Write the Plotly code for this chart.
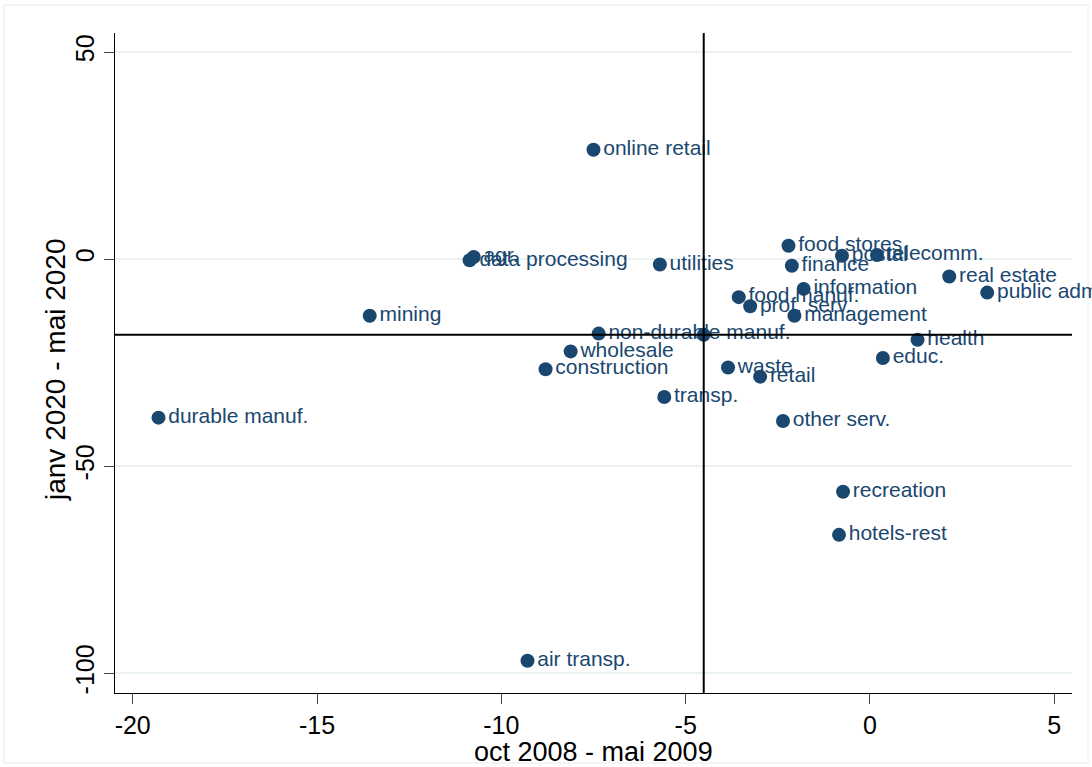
import plotly.graph_objects as go

sectors = ["online retail", "agr.", "data processing", "utilities", "mining",
           "durable manuf.", "non-durable manuf.", "", "wholesale", "construction",
           "transp.", "air transp.", "waste", "retail", "other serv.", "recreation",
           "hotels-rest", "food stores", "postal", "telecomm.", "finance",
           "information", "food manuf.", "prof. serv.", "management",
           "real estate", "public adm.", "health", "educ."]
x_2008 = [-7.50, -10.75, -10.86, -5.70, -13.57,
          -19.30, -7.36, -4.51, -8.12, -8.80,
          -5.58, -9.29, -3.85, -2.98, -2.36, -0.73,
          -0.84, -2.21, -0.76, 0.19, -2.12,
          -1.80, -3.56, -3.25, -2.05,
          2.15, 3.18, 1.29, 0.35]
y_2020 = [26.4, 0.5, -0.3, -1.3, -13.7,
          -38.3, -18.0, -18.3, -22.3, -26.6,
          -33.3, -97.0, -26.2, -28.4, -39.1, -56.2,
          -66.6, 3.2, 0.8, 1.0, -1.6,
          -7.2, -9.2, -11.4, -13.7,
          -4.2, -8.1, -19.5, -23.9]
ref_x = -4.51
ref_y = -18.3
x_ticks = [-20, -15, -10, -5, 0, 5]
y_ticks = [50, 0, -50, -100]
x_title = "oct 2008 - mai 2009"
y_title = "janv 2020 - mai 2020"

NAVY = "#1a476f"
FONT = "Liberation Sans, Arial, sans-serif"

fig = go.Figure()
fig.add_trace(go.Scatter(
    x=x_2008, y=y_2020, mode="markers+text", text=sectors,
    textposition="middle right",
    textfont=dict(family=FONT, size=21, color=NAVY),
    marker=dict(size=14, color=NAVY),
    cliponaxis=False, showlegend=False, hoverinfo="skip"))

fig.add_shape(type="line", xref="x", yref="paper", x0=ref_x, x1=ref_x, y0=0, y1=1,
              line=dict(color="black", width=2))
fig.add_shape(type="line", xref="paper", yref="y", x0=0, x1=1, y0=ref_y, y1=ref_y,
              line=dict(color="black", width=2))
# faint outer frame
fig.add_shape(type="rect", xref="paper", yref="paper",
              x0=(4 - 115) / 957, x1=(1088 - 115) / 957,
              y0=(693 - 763) / 660, y1=(693 - 5) / 660,
              line=dict(color="#e6ecee", width=1), layer="below")

fig.add_annotation(text=x_title, xref="paper", yref="paper",
                   x=0.5, y=(693 - 752) / 660, xanchor="center", yanchor="middle",
                   showarrow=False, font=dict(family=FONT, size=27, color="black"))
fig.add_annotation(text=y_title, xref="paper", yref="paper", textangle=-90,
                   x=(55 - 115) / 957, y=(693 - 370) / 660, xanchor="center",
                   yanchor="middle", showarrow=False,
                   font=dict(family=FONT, size=28, color="black"))

fig.update_layout(
    width=1092, height=767,
    margin=dict(l=115, r=20, t=33, b=74),
    paper_bgcolor="white", plot_bgcolor="white",
    font=dict(family=FONT, color="black"),
    xaxis=dict(range=[-20.48, 5.48], tickvals=x_ticks,
               ticktext=[str(v) for v in x_ticks], showgrid=False, zeroline=False,
               showline=True, linecolor="black", linewidth=1.3, automargin=False,
               ticks="outside", ticklen=10, tickcolor="#444", tickwidth=1.3,
               tickfont=dict(size=25)),
    yaxis=dict(range=[-104.8, 54.6], tickvals=y_ticks,
               ticktext=[str(v) for v in y_ticks], showgrid=True,
               gridcolor="#eaf2f3", gridwidth=1.5, zeroline=False,
               showline=True, linecolor="black", linewidth=1.3, automargin=False,
               ticks="outside", ticklen=10, tickcolor="#444", tickwidth=1.3,
               tickangle=-90, tickfont=dict(size=25)),
)

fig.write_html("out.html", config={"displayModeBar": False},
               post_script="document.body.style.margin='0';document.body.style.overflow='hidden';")
